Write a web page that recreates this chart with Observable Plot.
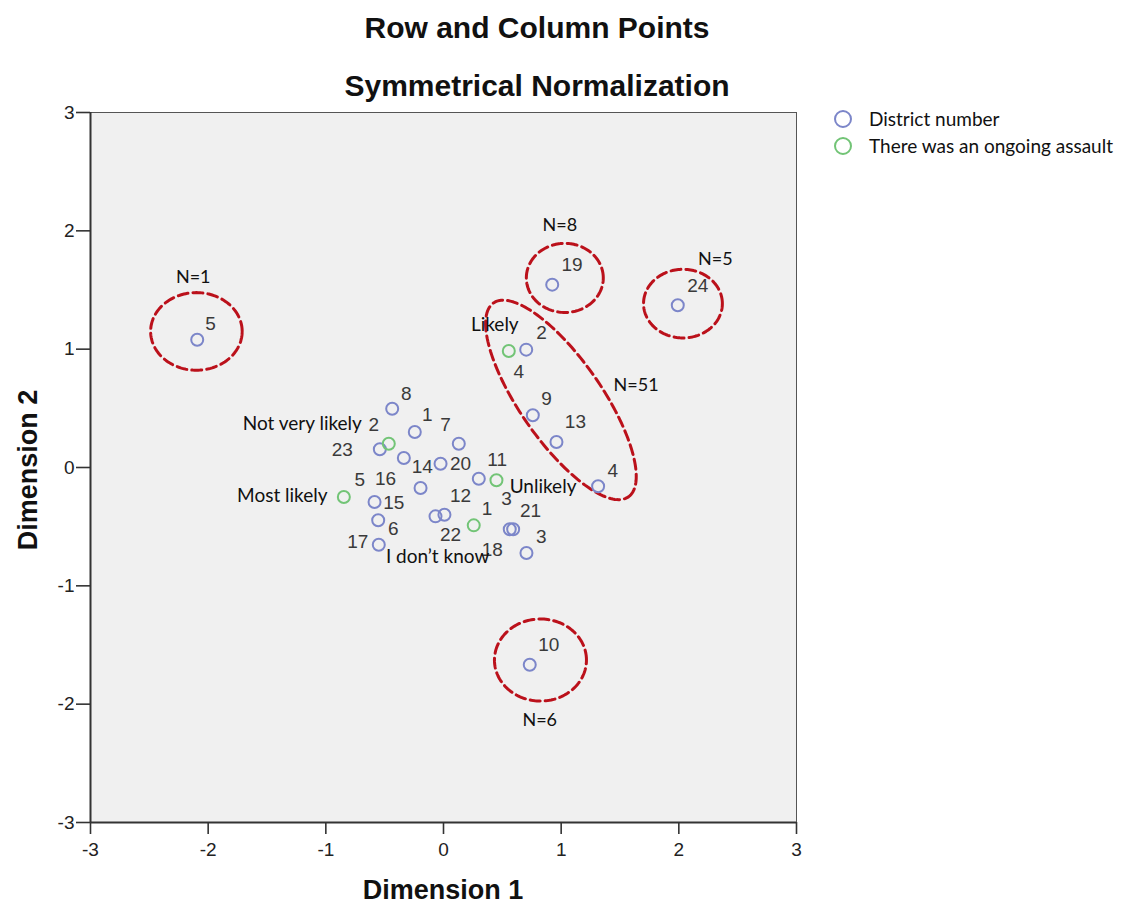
<!DOCTYPE html>
<html><head><meta charset="utf-8">
<script src="https://cdn.jsdelivr.net/npm/d3@7"></script>
<script src="https://cdn.jsdelivr.net/npm/@observablehq/plot@0.6"></script>
<style>
body{margin:0;background:#fff;width:1125px;height:905px;position:relative;overflow:hidden;font-family:"Liberation Sans",Arial,sans-serif}
.title{position:absolute;left:187px;width:700px;text-align:center;font-weight:bold;font-size:30px;line-height:34px;color:#111}
.axt{position:absolute;width:300px;text-align:center;font-weight:bold;font-size:27px;line-height:32px;color:#111}
#chart{position:absolute;left:0;top:100px}
#legend{position:absolute;left:833px;top:105px;font-family:Lato,"Open Sans",sans-serif;font-size:19px;color:#111}
#legend .row{display:flex;align-items:center;height:27px}
#legend svg{margin-right:16px}
</style></head><body>
<div class="title" style="top:11px">Row and Column Points</div>
<div class="title" style="top:69px">Symmetrical Normalization</div>
<div id="chart"></div>
<div class="axt" style="left:293px;top:874px">Dimension 1</div>
<div class="axt" style="left:-122px;top:454px;transform:rotate(-90deg)">Dimension 2</div>
<div id="legend"></div>
<script>
// Row points: district numbers (blue)
const districtX = [-2.093, 0.924, 1.991, 0.703, 0.759, 0.960, 1.314, 0.733, -0.436, -0.244, 0.130, -0.541,
                   -0.337, -0.025, 0.300, -0.195, -0.586, -0.555, -0.550, -0.068, 0.008, 0.563, 0.592, 0.705];
const districtY = [1.080, 1.545, 1.371, 0.996, 0.441, 0.216, -0.159, -1.667, 0.497, 0.300, 0.201, 0.154,
                   0.080, 0.032, -0.095, -0.173, -0.292, -0.446, -0.653, -0.413, -0.399, -0.522, -0.522, -0.723];
// Column points: "There was an ongoing assault" (green)
const responseNames = ["Likely", "Not very likely", "Most likely", "Unlikely", "I don’t know"];
const responseX = [0.555, -0.465, -0.847, 0.450, 0.257];
const responseY = [0.985, 0.201, -0.249, -0.108, -0.489];
const responseLabelX = [0.436, -1.200, -1.370, 0.846, -0.050];
const responseLabelY = [1.202, 0.370, -0.243, -0.165, -0.757];
// Point number labels
const numberText = ["5","19","24","2","4","9","13","4","10","8","2","1","7","23","14","20","11","5","16","15","12","3","1","21","6","22","3","17","18"];
const numberX = [-1.980, 1.093, 2.161, 0.833, 0.640, 0.875, 1.121, 1.438, 0.895, -0.317, -0.592, -0.138, 0.017, -0.861, -0.181,
                 0.144, 0.456, -0.711, -0.493, -0.422, 0.144, 0.536, 0.371, 0.739, -0.427, 0.059, 0.830, -0.728, 0.415];
const numberY = [1.216, 1.709, 1.534, 1.137, 0.807, 0.577, 0.385, -0.032, -1.498, 0.624, 0.357, 0.441, 0.362, 0.145, 0.004,
                 0.032, 0.061, -0.108, -0.095, -0.298, -0.241, -0.262, -0.348, -0.370, -0.517, -0.573, -0.587, -0.630, -0.697];
// Cluster annotations
const clusterText = ["N=1", "N=8", "N=5", "N=51", "N=6"];
const clusterLabelX = [-2.127, 0.988, 2.311, 1.637, 0.818];
const clusterLabelY = [1.610, 2.047, 1.760, 0.695, -2.137];
const ellipseCX = [-2.100, 1.031, 2.035, 0.998, 0.824];
const ellipseCY = [1.150, 1.602, 1.385, 0.571, -1.627];
const ellipseRX = [0.389, 0.327, 0.335, 1.000, 0.391];
const ellipseRY = [0.328, 0.292, 0.290, 0.347, 0.347];
const ellipseAngle = [0, 0, 0, -55, 0];
// Axis ticks
const xTicks = [-3, -2, -1, 0, 1, 2, 3];
const yTicks = [-3, -2, -1, 0, 1, 2, 3];
const legendItems = ["District number", "There was an ongoing assault"];

const blue = "#7c86c9", green = "#72c476", red = "#bb111b";

const districts = districtX.map((x, i) => ({x, y: districtY[i]}));
const responses = responseX.map((x, i) => ({x, y: responseY[i], name: responseNames[i], lx: responseLabelX[i], ly: responseLabelY[i]}));
const numbers = numberText.map((t, i) => ({t, x: numberX[i], y: numberY[i]}));
const clusters = clusterText.map((t, i) => ({t, x: clusterLabelX[i], y: clusterLabelY[i]}));
const ellipsePts = [];
ellipseCX.forEach((cx, k) => {
  const th = ellipseAngle[k] * Math.PI / 180;
  for (let i = 0; i <= 160; i++) {
    const t = i / 160 * 2 * Math.PI;
    const a = ellipseRX[k] * Math.cos(t), b = ellipseRY[k] * Math.sin(t);
    ellipsePts.push({id: k, x: cx + a * Math.cos(th) - b * Math.sin(th), y: ellipseCY[k] + a * Math.sin(th) + b * Math.cos(th)});
  }
});

const fmt = d => String(d);
const axisMarks = Plot.axisX ? [
  Plot.axisX({ticks: xTicks, tickFormat: fmt, tickSize: 12, tickPadding: 8, fontSize: 19, fill: "#222", stroke: "#333", strokeWidth: 1.6, label: null}),
  Plot.axisY({ticks: yTicks, tickFormat: fmt, tickSize: 14, tickPadding: 2, fontSize: 19, fill: "#222", stroke: "#333", strokeWidth: 1.6, label: null})
] : [];

const chart = Plot.plot({
  width: 1125, height: 805,
  marginLeft: 90, marginRight: 329, marginTop: 12, marginBottom: 83,
  style: {fontFamily: "Liberation Sans, Arial, sans-serif", fontSize: "19px", color: "#222", background: "transparent"},
  x: {domain: [-3, 3], ticks: xTicks, tickFormat: fmt, tickSize: 12, tickPadding: 8, label: null},
  y: {domain: [-3, 3], ticks: yTicks, tickFormat: fmt, tickSize: 14, tickPadding: 2, label: null},
  marks: [
    Plot.frame({fill: "#f0f0f0", stroke: "#555", strokeWidth: 1}),
    ...axisMarks,
    Plot.ruleX([-3], {stroke: "#333", strokeWidth: 2}),
    Plot.ruleY([-3], {stroke: "#333", strokeWidth: 2}),
    Plot.line(ellipsePts, {x: "x", y: "y", z: "id", stroke: red, strokeWidth: 3, strokeDasharray: "10,5"}),
    Plot.dot(districts, {x: "x", y: "y", r: 6, stroke: blue, strokeWidth: 2, fill: "none"}),
    Plot.dot(responses, {x: "x", y: "y", r: 6, stroke: green, strokeWidth: 2, fill: "none"}),
    Plot.text(numbers, {x: "x", y: "y", text: "t", fill: "#3a3a3a", fontSize: 19, fontFamily: "Liberation Sans, Arial, sans-serif"}),
    Plot.text(responses, {x: "lx", y: "ly", text: "name", fill: "#111", fontSize: 19, fontFamily: "Lato, Open Sans, sans-serif"}),
    Plot.text(clusters, {x: "x", y: "y", text: "t", fill: "#111", fontSize: 18, fontFamily: "Lato, Open Sans, sans-serif"})
  ]
});
document.getElementById("chart").appendChild(chart);

const legend = document.getElementById("legend");
[blue, green].forEach((c, i) => {
  const row = document.createElement("div");
  row.className = "row";
  row.innerHTML = `<svg width="20" height="20"><circle cx="10" cy="10" r="8" fill="none" stroke="${c}" stroke-width="2"/></svg><span>${legendItems[i]}</span>`;
  legend.appendChild(row);
});
</script>
</body></html>
